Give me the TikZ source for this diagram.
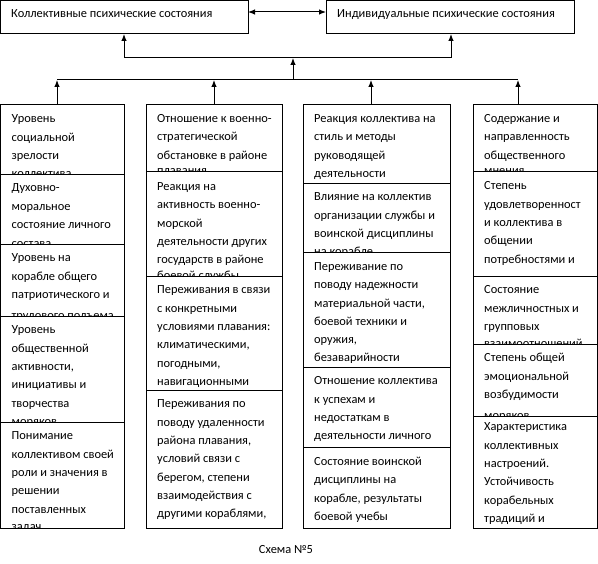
\documentclass[tikz,border=0pt]{standalone}
\usepackage{fontspec}
\setmainfont{Carlito}
\usetikzlibrary{arrows.meta}
\tikzset{
  x=1pt, y=-1pt,
  cellbox/.style={draw, line width=1pt, anchor=north west, inner sep=0pt, outer sep=0pt},
  topbox/.style={draw, line width=1pt, anchor=north west, inner sep=0pt, outer sep=0pt},
  txt/.style={anchor=base west, inner sep=0pt, font=\fontsize{12.4}{14}\selectfont},
  conn/.style={line width=1pt},
  arr/.style={conn, -{Latex[length=7pt,width=5.5pt]}},
  dblarr/.style={conn, {Latex[length=7pt,width=5.5pt]}-{Latex[length=7pt,width=5.5pt]}},
}
\def\ls{18.3}
% #1 name, #2 x, #3 top, #4 bottom, #5 width, #6 first baseline offset, #7 lines, #8 partial line
\newcommand\cellnode[8]{%
  \node[cellbox, minimum width=#5, minimum height=#4-#3] (#1) at (#2,#3) {};
  \begin{scope}
    \clip (#2,#3) rectangle ({#2+#5},#4);
    \foreach \lineitem [count=\k] in {#7} {\node[txt] (#1-\k) at ({#2+11},{#3+#6+\ls*(\k-1)}) {\lineitem};}
    \if\relax\detokenize{#8}\relax\else
      \node[txt] (#1-p) at ({#2+11},{#4+2.8}) {#8};
    \fi
  \end{scope}}
\begin{document}
\begin{tikzpicture}
\useasboundingbox (0,0) rectangle (598,564);

% top boxes
\node[topbox, minimum width=247.5, minimum height=33.5] (coll) at (0.5,0.5) {};
\node[txt] (collt) at (11,18) {Коллективные психические состояния};
\node[topbox, minimum width=248, minimum height=33.5] (ind) at (326,0.5) {};
\node[txt] (indt) at (337,18) {Индивидуальные психические состояния};
\draw[dblarr] (coll.east |- 0,12) -- (ind.west |- 0,12);

% bus coordinates
\coordinate (bl) at (124,58);
\coordinate (br) at (451,58);
\coordinate (bm) at (293,58);
\coordinate (lm) at (293,80);
\coordinate (l1) at (57,80);
\coordinate (l2) at (214,80);
\coordinate (l3) at (371,80);
\coordinate (l4) at (518,80);

% column 1
\cellnode{c1a}{0.5}{105}{175}{123.5}{18}{Уровень, социальной, зрелости}{коллектива}
\cellnode{c1b}{0.5}{175}{245}{123.5}{17}{Духовно-, моральное, состояние личного}{состава}
\cellnode{c1c}{0.5}{245}{317}{123.5}{17}{Уровень на, корабле общего, патриотического и}{трудового подъема}
\cellnode{c1d}{0.5}{317}{423}{123.5}{17}{Уровень, общественной, {активности,}, инициативы и, творчества}{моряков}
\cellnode{c1e}{0.5}{423}{528}{123.5}{17}{Понимание, коллективом своей, роли и значения в, решении, поставленных}{задач}

% column 2
\cellnode{c2a}{146}{105}{172}{136}{17.5}{Отношение к военно-, стратегической, обстановке в районе}{плавания}
\cellnode{c2b}{146}{172}{277}{136}{18.5}{Реакция на, активность военно-, морской, деятельности других, государств в районе}{боевой службы}
\cellnode{c2c}{146}{277}{391}{136}{17}{Переживания в связи, с конкретными, условиями плавания:, {климатическими,}, {погодными,}, навигационными}{}
\cellnode{c2d}{146}{391}{528}{136}{17}{Переживания по, поводу удаленности, {района плавания,}, условий связи с, {берегом, степени}, взаимодействия с, {другими кораблями,}}{}

% column 3
\cellnode{c3a}{303}{105}{184}{147}{17.5}{Реакция коллектива на, стиль и методы, руководящей, деятельности}{}
\cellnode{c3b}{303}{184}{253}{147}{17}{Влияние на коллектив, организации службы и, воинской дисциплины}{на корабле}
\cellnode{c3c}{303}{253}{368}{147}{17.5}{Переживание по, поводу надежности, {материальной части,}, боевой техники и, {оружия,}, безаварийности}{}
\cellnode{c3d}{303}{368}{448}{147}{17}{Отношение коллектива, к успехам и, недостаткам в, деятельности личного}{}
\cellnode{c3e}{303}{448}{528}{147}{17.5}{Состояние воинской, дисциплины на, {корабле, результаты}, боевой учебы}{}

% column 4
\cellnode{c4a}{473}{105}{172}{124}{17.5}{Содержание и, направленность, общественного}{мнения}
\cellnode{c4b}{473}{172}{277}{124}{18}{Степень, удовлетворенност, и коллектива в, общении, потребностями и}{}
\cellnode{c4c}{473}{277}{345}{124}{17}{Состояние, межличностных и, групповых}{взаимоотношений}
\cellnode{c4d}{473}{345}{417}{124}{17}{Степень общей, эмоциональной, возбудимости}{моряков}
\cellnode{c4e}{473}{417}{528}{124}{14}{Характеристика, коллективных, настроений., Устойчивость, корабельных, традиций и}{}

% connectors
\draw[arr] (bl) -- (coll.south -| bl);
\draw[arr] (br) -- (ind.south -| br);
\draw[conn] (bl) -- (br);
\draw[arr] (lm) -- (bm);
\draw[conn] (l1) -- (l4);
\draw[arr] (c1a.north -| l1) -- (l1);
\draw[arr] (c2a.north -| l2) -- (l2);
\draw[arr] (c3a.north -| l3) -- (l3);
\draw[arr] (c4a.north -| l4) -- (l4);

% caption
\node[txt, anchor=base] (cap) at (286,554) {Схема №5};
\end{tikzpicture}
\end{document}
